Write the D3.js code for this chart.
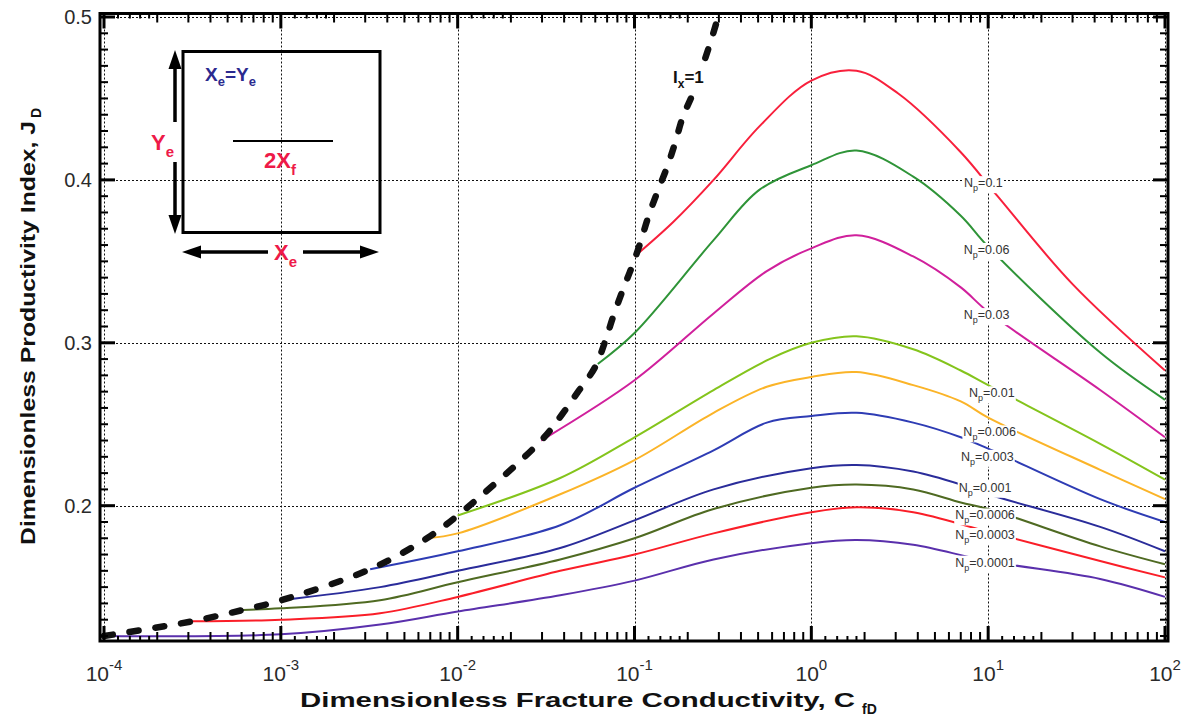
<!DOCTYPE html>
<html>
<head>
<meta charset="utf-8">
<script src="https://cdn.jsdelivr.net/npm/d3@7"></script>
<style>
  body { margin: 0; background: #fff; }
  svg { display: block; font-family: Arial, "Liberation Sans", sans-serif; }
</style>
</head>
<body>
<svg id="chart" width="1188" height="720"></svg>
<script>
// ---- data ----
const npLabels = ["0.1", "0.06", "0.03", "0.01", "0.006", "0.003", "0.001", "0.0006", "0.0003", "0.0001"];
const curveColors = ["#f8203c", "#2f9438", "#d0209c", "#84c41c", "#fbb428", "#2e3cb4", "#2a2c9a", "#4f6a22", "#fa1e28", "#5a30ac"];

// [C_fD, J_D]
const np0p1 = [[0.1, 0.353], [0.165, 0.374], [0.28, 0.400], [0.51, 0.433], [1, 0.461], [1.8, 0.467], [3.1, 0.453], [7, 0.417], [11.3, 0.390], [30, 0.336], [100, 0.283]];
const np0p06 = [[0.062, 0.287], [0.1, 0.306], [0.28, 0.363], [0.51, 0.394], [1, 0.409], [1.8, 0.418], [3.77, 0.402], [7, 0.378], [10, 0.359], [43, 0.294], [100, 0.265]];
const np0p03 = [[0.0297, 0.240], [0.1, 0.277], [0.28, 0.318], [0.56, 0.344], [1, 0.358], [1.8, 0.366], [3.77, 0.353], [7, 0.334], [10, 0.319], [43, 0.271], [100, 0.242]];
const np0p01 = [[0.01, 0.194], [0.038, 0.217], [0.1, 0.242], [0.28, 0.271], [0.58, 0.290], [1, 0.300], [1.8, 0.304], [3.77, 0.296], [7, 0.283], [10, 0.274], [43, 0.238], [100, 0.216]];
const np0p006 = [[0.0067, 0.180], [0.01, 0.183], [0.038, 0.207], [0.1, 0.228], [0.28, 0.257], [0.56, 0.273], [1, 0.279], [1.8, 0.282], [3.77, 0.274], [7, 0.264], [10, 0.254], [43, 0.222], [100, 0.204]];
const np0p003 = [[0.0032, 0.161], [0.01, 0.172], [0.038, 0.188], [0.1, 0.211], [0.28, 0.234], [0.56, 0.251], [1, 0.255], [1.8, 0.257], [3.77, 0.251], [7, 0.242], [10, 0.235], [43, 0.204], [100, 0.190]];
const np0p001 = [[0.001, 0.142], [0.00364, 0.150], [0.01, 0.160], [0.038, 0.174], [0.1, 0.191], [0.28, 0.210], [1, 0.223], [1.8, 0.225], [3.77, 0.221], [7, 0.213], [10, 0.207], [43, 0.187], [100, 0.172]];
const np0p0006 = [[0.00061, 0.136], [0.001, 0.137], [0.00364, 0.142], [0.01, 0.153], [0.038, 0.167], [0.1, 0.180], [0.28, 0.198], [1, 0.211], [1.8, 0.213], [3.77, 0.210], [7, 0.202], [10, 0.198], [43, 0.175], [100, 0.164]];
const np0p0003 = [[0.000315, 0.129], [0.001, 0.130], [0.00364, 0.134], [0.01, 0.144], [0.038, 0.160], [0.1, 0.170], [0.28, 0.183], [1, 0.196], [1.8, 0.199], [3.77, 0.196], [10, 0.184], [43, 0.166], [100, 0.156]];
const np0p0001 = [[0.0001, 0.120], [0.001, 0.121], [0.00364, 0.127], [0.01, 0.135], [0.038, 0.145], [0.1, 0.154], [0.28, 0.167], [1, 0.177], [1.8, 0.179], [3.77, 0.176], [10, 0.166], [43, 0.155], [100, 0.144]];
const curves = [np0p1, np0p06, np0p03, np0p01, np0p006, np0p003, np0p001, np0p0006, np0p0003, np0p0001];

// where each N_p label sits, [C_fD, J_D] of its centre
const labelAnchors = [[9.4, 0.398], [9.8, 0.357], [9.8, 0.317], [10.5, 0.269], [10.2, 0.245], [9.9, 0.230], [9.6, 0.211], [9.6, 0.194], [9.6, 0.182], [9.6, 0.165]];

// I_x = 1 envelope
const ixCurve = [[0.0001, 0.120], [0.000315, 0.129], [0.00061, 0.136], [0.00101, 0.142], [0.0032, 0.161], [0.0067, 0.180], [0.01, 0.194], [0.0297, 0.240], [0.0389, 0.256], [0.048, 0.270], [0.0598, 0.285], [0.0683, 0.301], [0.0757, 0.316], [0.0863, 0.333], [0.0969, 0.347], [0.1076, 0.361], [0.1194, 0.377], [0.134, 0.392], [0.153, 0.408], [0.170, 0.423], [0.188, 0.439], [0.212, 0.452], [0.268, 0.484], [0.297, 0.500]];

const xTickExps = [-4, -3, -2, -1, 0, 1, 2];
const yTickValues = [0.2, 0.3, 0.4, 0.5];
const xMinorMults = [1.2, 1.4, 1.6, 1.8, 2, 3, 4, 5, 6, 7, 8, 9];

// ---- layout ----
const svg = d3.select("#chart");
const frame = { left: 100, top: 13.5, right: 1168, bottom: 641 };
const x = d3.scaleLog().domain([1e-4, 1e2]).range([104, 1165]);
const y = d3.scaleLinear().domain([0.12, 0.5]).range([636, 17]);

svg.append("defs").append("clipPath").attr("id", "plotClip")
  .append("rect")
  .attr("x", frame.left).attr("y", frame.top)
  .attr("width", frame.right - frame.left).attr("height", frame.bottom - frame.top);

// grid
const grid = svg.append("g").attr("stroke", "#111").attr("stroke-width", 1).attr("stroke-dasharray", "2,2");
xTickExps.forEach((e) => {
  const xv = Math.round(x(Math.pow(10, e))) + 0.5;
  grid.append("line").attr("x1", xv).attr("x2", xv).attr("y1", frame.top).attr("y2", frame.bottom);
});
yTickValues.forEach((v) => {
  const yv = Math.round(y(v)) + 0.5;
  grid.append("line").attr("x1", frame.left).attr("x2", frame.right).attr("y1", yv).attr("y2", yv);
});

// curves
const line = d3.line()
  .x((d) => x(d[0]))
  .y((d) => y(d[1]))
  .curve(d3.curveCatmullRom.alpha(0.5));

const plot = svg.append("g").attr("clip-path", "url(#plotClip)");
curves.forEach((data, i) => {
  plot.append("path")
    .attr("d", line(data))
    .attr("fill", "none")
    .attr("stroke", curveColors[i])
    .attr("stroke-width", 2);
});

plot.append("path")
  .attr("d", line(ixCurve))
  .attr("fill", "none")
  .attr("stroke", "#111")
  .attr("stroke-width", 6.5)
  .attr("stroke-linecap", "round")
  .attr("stroke-dasharray", "9,17");

// labels with white backing
function backedLabel(g, px, py, build) {
  const t = g.append("text").attr("x", px).attr("y", py);
  build(t);
  const bb = t.node().getBBox();
  g.insert("rect", () => t.node())
    .attr("x", bb.x - 1).attr("y", bb.y)
    .attr("width", bb.width + 2).attr("height", bb.height)
    .attr("fill", "#fff");
  return t;
}

const labels = svg.append("g");
npLabels.forEach((lab, i) => {
  const [c, j] = labelAnchors[i];
  backedLabel(labels, x(c), y(j) + 4, (t) => {
    t.attr("text-anchor", "middle").attr("font-size", 12.5).attr("fill", "#333");
    t.append("tspan").text("N");
    t.append("tspan").attr("font-size", 9).attr("dy", 4).text("p");
    t.append("tspan").attr("dy", -4).text("=" + lab);
  });
});

backedLabel(labels, 673, 83, (t) => {
  t.attr("font-size", 17).attr("font-weight", "bold").attr("fill", "#111");
  t.append("tspan").text("I");
  t.append("tspan").attr("font-size", 12).attr("dy", 5).text("x");
  t.append("tspan").attr("dy", -5).text("=1");
});

// frame and ticks
const axes = svg.append("g").attr("stroke", "#000");
axes.append("rect")
  .attr("x", frame.left).attr("y", frame.top)
  .attr("width", frame.right - frame.left).attr("height", frame.bottom - frame.top)
  .attr("fill", "none").attr("stroke-width", 3);

xTickExps.forEach((e, k) => {
  const base = Math.pow(10, e);
  const xv = x(base);
  axes.append("line").attr("x1", xv).attr("x2", xv).attr("y1", frame.bottom).attr("y2", frame.bottom - 15).attr("stroke-width", 3);
  axes.append("line").attr("x1", xv).attr("x2", xv).attr("y1", frame.top).attr("y2", frame.top + 15).attr("stroke-width", 3);
  if (k === xTickExps.length - 1) return;
  xMinorMults.forEach((m) => {
    const xm = x(base * m);
    const len = m < 2 ? 5 : 9;
    axes.append("line").attr("x1", xm).attr("x2", xm).attr("y1", frame.bottom).attr("y2", frame.bottom - len).attr("stroke-width", 2);
    axes.append("line").attr("x1", xm).attr("x2", xm).attr("y1", frame.top).attr("y2", frame.top + len).attr("stroke-width", 2);
  });
});

d3.range(12, 51).forEach((k) => {
  const v = k / 100;
  const yv = y(v);
  const major = k % 10 === 0;
  const len = major ? 15 : 8;
  axes.append("line").attr("x1", frame.left).attr("x2", frame.left + len).attr("y1", yv).attr("y2", yv).attr("stroke-width", major ? 3 : 2);
  axes.append("line").attr("x1", frame.right).attr("x2", frame.right - len).attr("y1", yv).attr("y2", yv).attr("stroke-width", major ? 3 : 2);
});

// tick labels
const tickText = svg.append("g").attr("fill", "#2a2a2a");
yTickValues.forEach((v) => {
  tickText.append("text")
    .attr("x", 92).attr("y", y(v) + 7)
    .attr("text-anchor", "end").attr("font-size", 20)
    .text(d3.format(".1f")(v));
});
xTickExps.forEach((e) => {
  const t = tickText.append("text")
    .attr("x", x(Math.pow(10, e))).attr("y", 681)
    .attr("text-anchor", "middle").attr("font-size", 21);
  t.append("tspan").text("10");
  t.append("tspan").attr("font-size", 15).attr("dy", -11).text(e < 0 ? "-" + (-e) : String(e));
});

// axis titles (stretched to the reference's width)
svg.append("text")
  .attr("x", 300).attr("y", 707)
  .attr("font-size", 21).attr("font-weight", "bold").attr("fill", "#111")
  .attr("textLength", 555).attr("lengthAdjust", "spacingAndGlyphs")
  .text("Dimensionless Fracture Conductivity, C");
svg.append("text")
  .attr("x", 862).attr("y", 714)
  .attr("font-size", 14).attr("font-weight", "bold").attr("fill", "#111")
  .text("fD");

const yTitle = svg.append("g").attr("transform", "translate(35,545) rotate(-90)");
yTitle.append("text")
  .attr("x", 0).attr("y", 0)
  .attr("font-size", 21).attr("font-weight", "bold").attr("fill", "#111")
  .attr("textLength", 424).attr("lengthAdjust", "spacingAndGlyphs")
  .text("Dimensionless Productivity Index, J");
yTitle.append("text")
  .attr("x", 427).attr("y", 6)
  .attr("font-size", 14).attr("font-weight", "bold").attr("fill", "#111")
  .text("D");

// inset sketch
const inset = svg.append("g");
const red = "#ee1a48";
inset.append("rect")
  .attr("x", 183).attr("y", 51.5).attr("width", 197).attr("height", 181)
  .attr("fill", "none").attr("stroke", "#000").attr("stroke-width", 3);
inset.append("line").attr("x1", 233).attr("x2", 333).attr("y1", 141).attr("y2", 141)
  .attr("stroke", "#000").attr("stroke-width", 2);

function arrowHead(tipX, tipY, dx, dy) {
  // dx, dy: unit direction the arrow points to
  const len = 19, half = 6.5;
  const bx = tipX - dx * len, by = tipY - dy * len;
  const pts = [[tipX, tipY], [bx - dy * half, by + dx * half], [bx + dy * half, by - dx * half]];
  inset.append("polygon").attr("points", pts.map((p) => p.join(",")).join(" ")).attr("fill", "#000");
}
function shaftLine(x1, y1, x2, y2) {
  inset.append("line").attr("x1", x1).attr("y1", y1).attr("x2", x2).attr("y2", y2)
    .attr("stroke", "#000").attr("stroke-width", 3.5);
}
shaftLine(175, 60, 175, 122);
shaftLine(175, 162, 175, 224);
arrowHead(175, 50, 0, -1);
arrowHead(175, 234, 0, 1);
shaftLine(192, 252, 268, 252);
shaftLine(303, 252, 369, 252);
arrowHead(182, 252, -1, 0);
arrowHead(379, 252, 1, 0);

function subLabel(px, py, main, sub, size, color) {
  const t = inset.append("text").attr("x", px).attr("y", py)
    .attr("font-size", size).attr("font-weight", "bold").attr("fill", color);
  t.append("tspan").text(main);
  t.append("tspan").attr("font-size", size * 0.68).attr("dy", size * 0.3).text(sub);
  return t;
}
subLabel(151, 150, "Y", "e", 22, red);
subLabel(274, 260, "X", "e", 22, red);
subLabel(264, 168, "2X", "f", 22, red);

const eq = inset.append("text").attr("x", 205).attr("y", 81)
  .attr("font-size", 19).attr("font-weight", "bold").attr("fill", "#2b2a8f");
eq.append("tspan").text("X");
eq.append("tspan").attr("font-size", 13).attr("dy", 5).text("e");
eq.append("tspan").attr("dy", -5).text("=Y");
eq.append("tspan").attr("font-size", 13).attr("dy", 5).text("e");
</script>
</body>
</html>
